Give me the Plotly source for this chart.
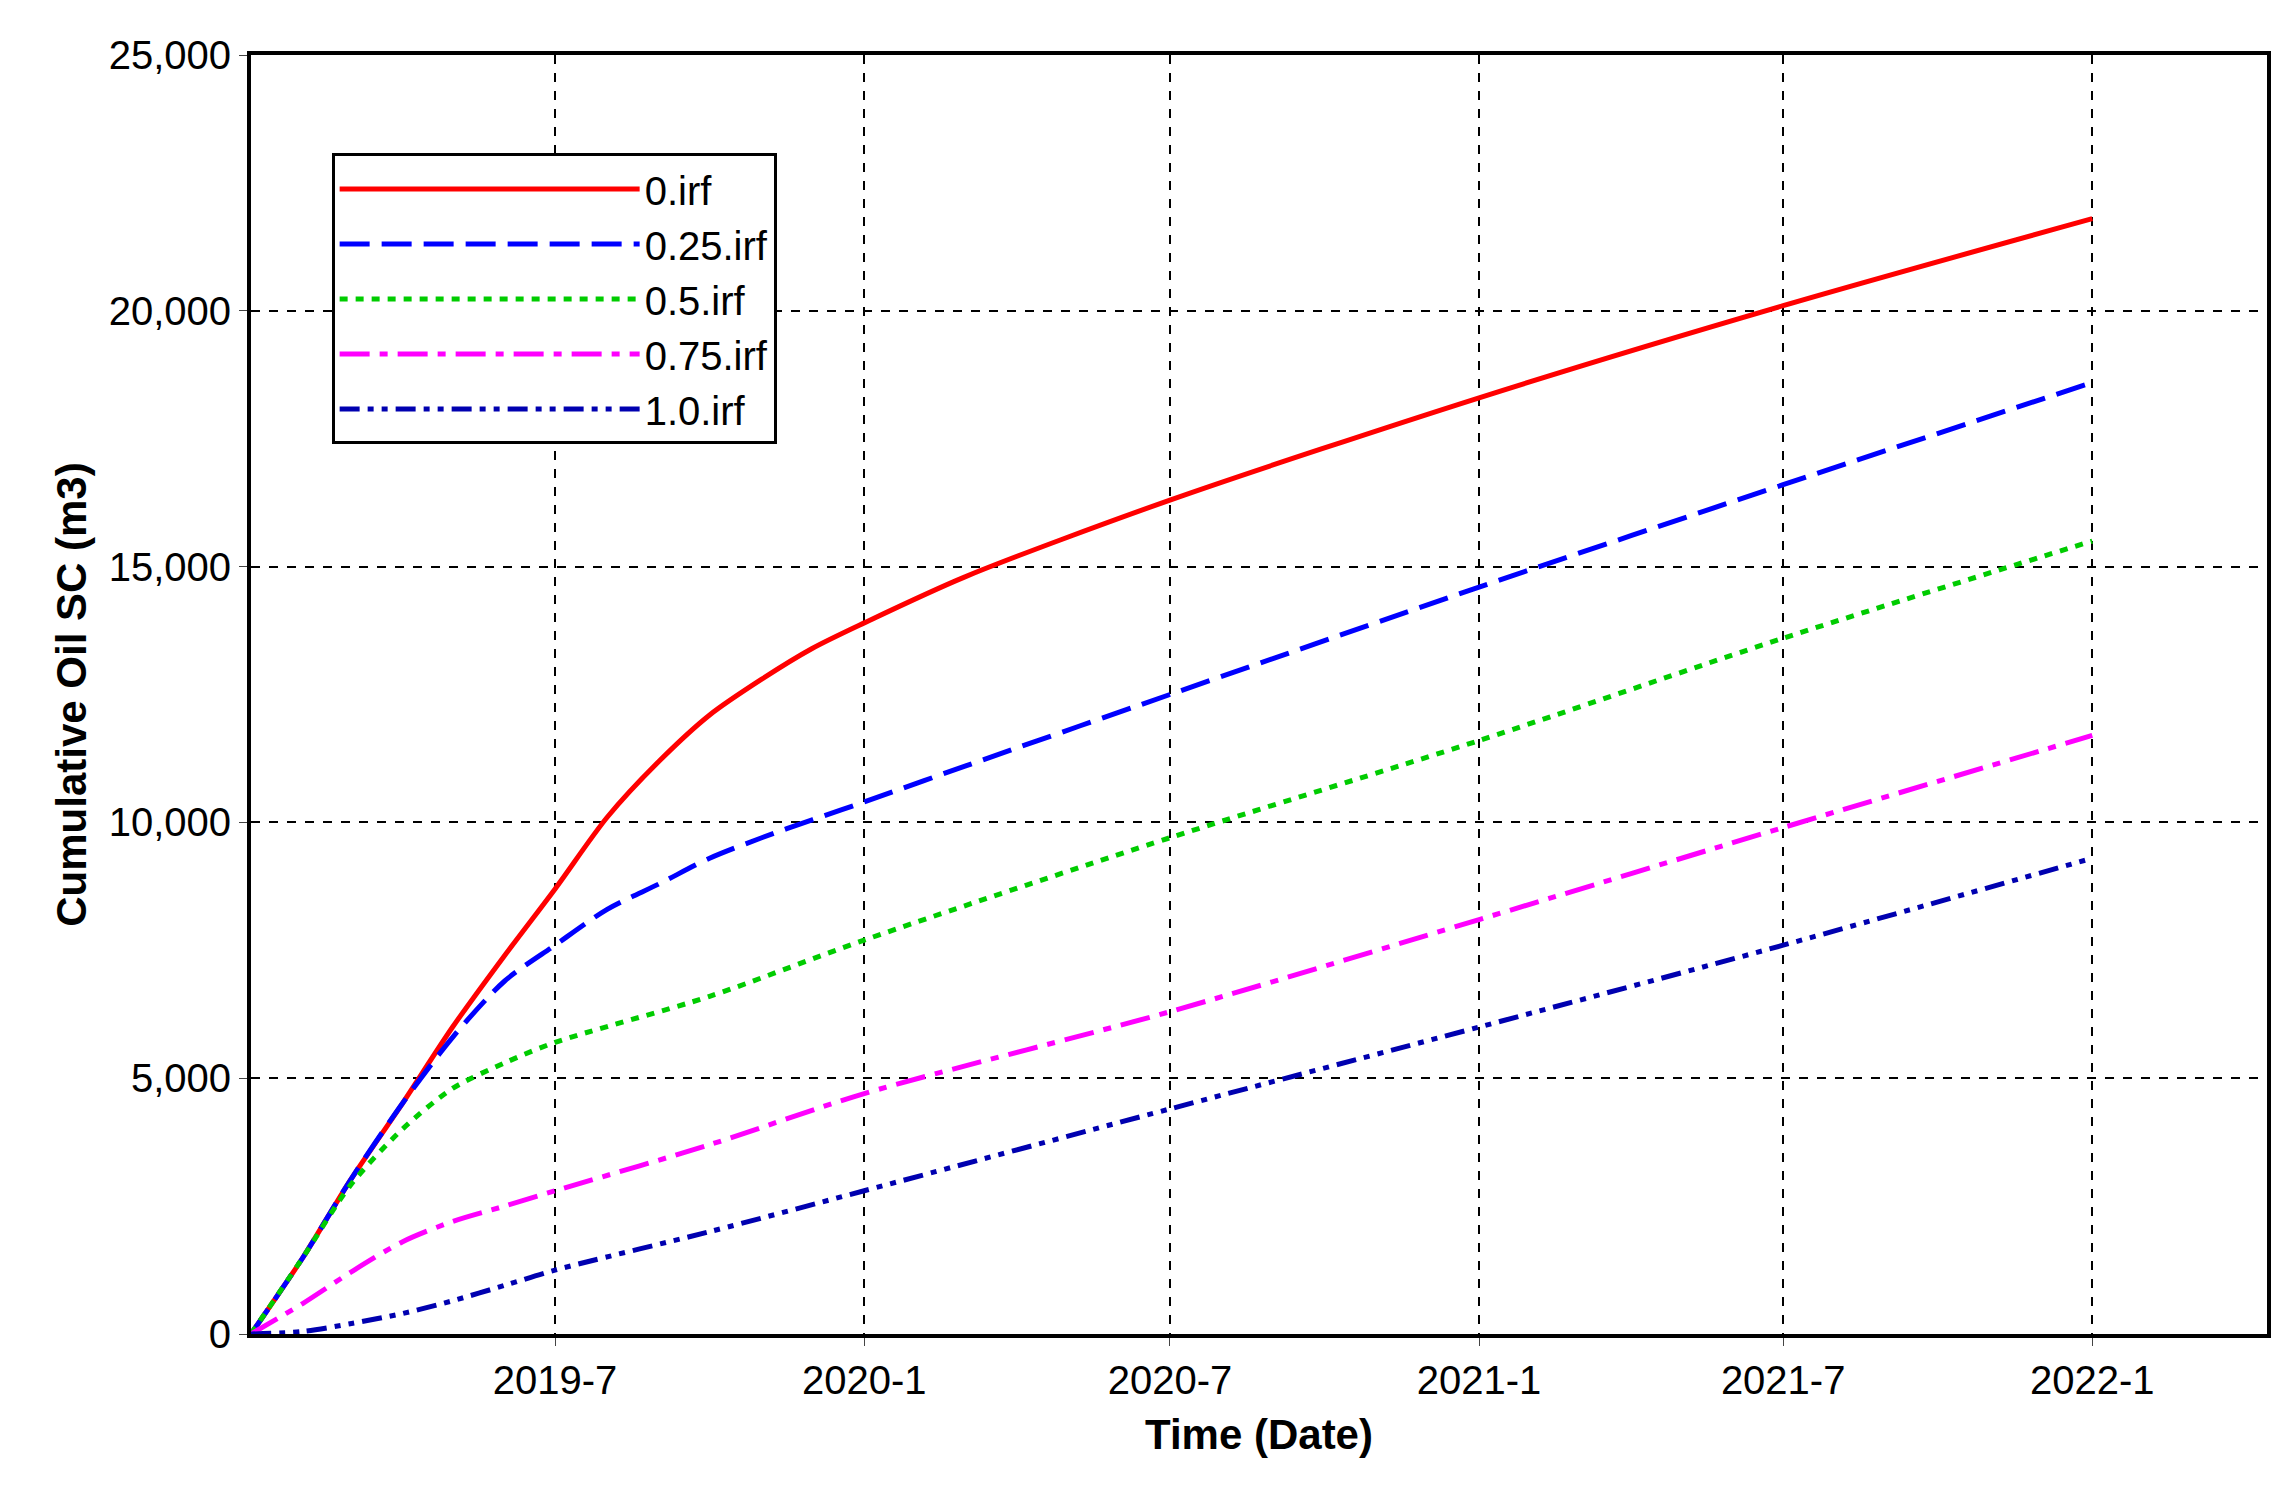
import plotly.graph_objects as go

dates_fast = ["2019-01-01","2019-02-01","2019-03-01","2019-04-01","2019-05-01","2019-06-01","2019-07-01",
              "2019-08-01","2019-09-01","2019-10-01","2019-11-01","2019-12-01","2020-01-01","2020-03-01",
              "2020-07-01","2021-01-01","2021-07-01","2022-01-01"]
s0 = [0,1500,3000,4500,6000,7400,8700,10100,11200,12100,12800,13400,13900,14800,16300,18300,20100,21800]
s025 = [0,1500,3000,4500,5800,6900,7600,8300,8800,9300,9700,10050,10400,11100,12500,14600,16600,18600]

dates_slow = ["2019-01-01","2019-02-01","2019-03-01","2019-04-01","2019-05-01","2019-06-01","2019-07-01",
              "2019-10-01","2020-01-01","2020-07-01","2021-01-01","2021-07-01","2022-01-01"]
s05 = [0,1500,2900,4000,4800,5300,5700,6600,7700,9700,11600,13600,15500]
s075 = [0,600,1200,1800,2200,2500,2800,3700,4700,6300,8100,9900,11700]
s10 = [0,50,200,400,650,950,1250,2000,2800,4400,6000,7600,9300]

names = ["0.irf","0.25.irf","0.5.irf","0.75.irf","1.0.irf"]
tick_vals = ["2019-07-01","2020-01-01","2020-07-01","2021-01-01","2021-07-01","2022-01-01"]
tick_text = ["2019-7","2020-1","2020-7","2021-1","2021-7","2022-1"]

fig = go.Figure()
series = [(dates_fast,s0,"#ff0000","solid"),
          (dates_fast,s025,"#0000ff","30px,12px"),
          (dates_slow,s05,"#00cc00","8px,8px"),
          (dates_slow,s075,"#ff00ff","30px,10px,8px,10px"),
          (dates_slow,s10,"#0000b0","20px,8px,6px,8px,6px,8px")]
for (d,v,c,dsh),n in zip(series,names):
    fig.add_trace(go.Scatter(x=d,y=v,name=n,mode="lines",line=dict(color=c,width=5,dash=dsh,shape="spline",smoothing=0.8)))

font = dict(family="Liberation Sans, Arial", size=40, color="black")
fig.update_layout(
    width=2285,height=1494,plot_bgcolor="white",paper_bgcolor="white",
    margin=dict(l=243,r=26,t=47,b=168),font=font,
    legend=dict(x=0.04,y=0.923,xanchor="left",yanchor="top",bordercolor="black",borderwidth=3,
                bgcolor="white",font=dict(size=40),itemwidth=300,tracegroupgap=0),
)
fig.update_xaxes(range=["2019-01-01","2022-04-15"],tickvals=tick_vals,ticktext=tick_text,
                 showgrid=True,gridcolor="black",griddash="dash",gridwidth=1.5,
                 showline=True,linecolor="black",linewidth=4,mirror=True,ticks="outside",ticklen=8,
                 title=dict(text="<b>Time (Date)</b>",font=dict(size=42),standoff=20))
fig.update_yaxes(range=[0,25000],tickvals=[0,5000,10000,15000,20000,25000],tickformat=",d",
                 showgrid=True,gridcolor="black",griddash="dash",gridwidth=1.5,zeroline=False,
                 showline=True,linecolor="black",linewidth=4,mirror=True,ticks="outside",ticklen=8,
                 title=dict(text="<b>Cumulative Oil SC (m3)</b>",font=dict(size=42),standoff=10))
fig.write_html("out.html")
